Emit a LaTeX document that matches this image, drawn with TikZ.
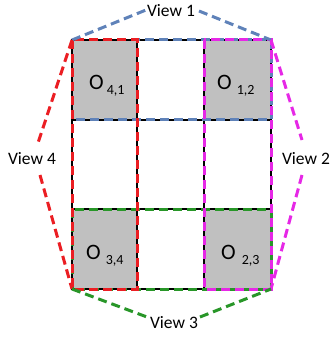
\documentclass[tikz,border=0pt]{standalone}
\usepackage{fontspec}
\setmainfont{Carlito}
\definecolor{vblue}{RGB}{95,130,185}
\definecolor{vred}{RGB}{235,30,35}
\definecolor{vmag}{RGB}{230,40,230}
\definecolor{vgreen}{RGB}{40,150,40}
\definecolor{cellgray}{RGB}{192,192,192}
\newcommand{\osub}[2]{O\hspace{#1}{\fontsize{14}{15}\selectfont\raisebox{-5pt}{#2}}}
\begin{document}
\begin{tikzpicture}[x=1pt,y=-1pt,
  viewdash/.style={line width=3pt, dash pattern=on 9pt off 5pt},
  gridline/.style={line width=1.7pt, black},
  lbl/.style={font=\fontsize{17.5}{20}\selectfont, inner sep=0pt},
  olbl/.style={font=\fontsize{22}{26}\selectfont, inner sep=0pt, anchor=base west}]
\useasboundingbox (0,0) rectangle (334,339);
% corners
\coordinate (TL) at (72,40);
\coordinate (TR) at (271,40);
\coordinate (BL) at (72,289);
\coordinate (BR) at (271,289);
% gray cells
\fill[cellgray] (72,40) rectangle (137,120);
\fill[cellgray] (204,40) rectangle (271,120);
\fill[cellgray] (72,209) rectangle (137,289);
\fill[cellgray] (204,209) rectangle (271,289);
% grid
\draw[gridline] (TL) rectangle (BR);
\draw[gridline] (137,40) -- (137,289);
\draw[gridline] (204,40) -- (204,289);
\draw[gridline] (72,120) -- (271,120);
\draw[gridline] (72,209) -- (271,209);
% view regions
\draw[viewdash, vblue] (72,40) rectangle (271,120);
\draw[viewdash, vgreen] (72,209) rectangle (271,289);
\draw[viewdash, vmag] (204,40) rectangle (271,289);
\draw[viewdash, vred] (72,40) rectangle (137,289);
% cell labels
\node[olbl] (o41) at (89,90) {\osub{3pt}{4,1}};
\node[olbl] (o12) at (217,90) {\osub{5pt}{1,2}};
\node[olbl] (o34) at (86,259) {\osub{5pt}{3,4}};
\node[olbl] (o23) at (221,259) {\osub{6pt}{2,3}};
% view labels
\node[lbl] (v1) at (171,11) {View 1};
\node[lbl] (v2) at (306,159) {View 2};
\node[lbl] (v3) at (174,323) {View 3};
\node[lbl] (v4) at (32,159) {View 4};
% connector ends
\coordinate (b1) at (146,10);
\coordinate (b2) at (199,11);
\coordinate (r1) at (38,143);
\coordinate (r2) at (40,175);
\coordinate (m1) at (302,140);
\coordinate (m2) at (302,175);
\coordinate (g1) at (147,317);
\coordinate (g2) at (200,317);
% connectors
\draw[viewdash, vblue] (TL) -- (b1);
\draw[viewdash, vblue] (b2) -- (TR);
\draw[viewdash, vred] (TL) -- (r1);
\draw[viewdash, vred] (r2) -- (BL);
\draw[viewdash, vmag] (TR) -- (m1);
\draw[viewdash, vmag] (m2) -- (BR);
\draw[viewdash, vgreen] (BL) -- (g1);
\draw[viewdash, vgreen] (g2) -- (BR);
\end{tikzpicture}
\end{document}
